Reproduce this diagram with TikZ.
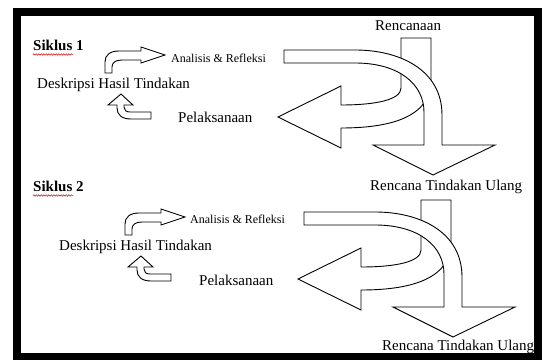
\documentclass[tikz,border=0pt]{standalone}
\usepackage{fontspec}
\setmainfont{Liberation Serif}
\usetikzlibrary{decorations.pathmorphing}
\begin{document}
\begin{tikzpicture}[x=1pt,y=-1pt,
  lbl/.style={anchor=base west,inner sep=0pt,font=\fontsize{15}{18}\selectfont},
  lblsmall/.style={anchor=base west,inner sep=0pt,font=\fontsize{12}{15}\selectfont},
  lblbold/.style={anchor=base west,inner sep=0pt,font=\fontsize{15}{18}\selectfont\bfseries},
  arr/.style={draw=black,fill=white,line width=0.9pt,line join=miter},
  squig/.style={draw=red!85!black,line width=0.5pt,decorate,decoration={snake,amplitude=0.7pt,segment length=2.5pt}},
  bigpair/.pic={
    % left-turning arrow (behind)
    \draw[arr] (401,38) -- (431,38) -- (431,80) .. controls (431,115) and (395,128) .. (341,128)
      -- (341,148) -- (278,117) -- (341,86) -- (341,105)
      .. controls (375,105) and (401,100) .. (401,88) -- cycle;
    % right-then-down arrow (front)
    \draw[arr] (284,50) -- (355,50) .. controls (400,50) and (442,70) .. (442,115) -- (442,145)
      -- (495,145) -- (433,175) -- (373,145) -- (424,145) -- (424,112)
      .. controls (424,85) and (400,63) .. (355,63) -- (284,63) -- cycle;
  },
  smallpair/.pic={
    \draw[arr] (105,73) -- (105,62) .. controls (105,55) and (110,51) .. (119,51) -- (141,51)
      -- (141,47) -- (165,55) -- (141,63) -- (141,60) -- (122,60)
      .. controls (115,60) and (112,63) .. (112,67) -- (112,73) -- cycle;
    \draw[arr] (121,94) -- (133,105) -- (124,105) -- (124,107)
      .. controls (124,110) and (126,112) .. (130,112) -- (151,112) -- (151,119) -- (131,119)
      .. controls (122,119) and (117,115) .. (117,108) -- (117,105) -- (108,105) -- cycle;
  }]
\useasboundingbox (0,0) rectangle (543,363);
\fill[white] (0,0) rectangle (543,363);
\draw[line width=7.5pt] (17,12) rectangle (538,356.5);

% Siklus 1
\node[lblbold] (s1) at (33,51) {Siklus 1};
\draw[squig] (33,54.5) -- (73,54.5);
\pic at (0,0) {smallpair};
\pic at (0,0) {bigpair};
\node[lblsmall] (ar1) at (171,63) {Analisis \& Refleksi};
\node[lbl] (dh1) at (37,89) {Deskripsi Hasil Tindakan};
\node[lbl] (pl1) at (178,123) {Pelaksanaan};
\node[lbl] (rc1) at (375,30.5) {Rencanaan};
\node[lbl] (rt1) at (370,191) {Rencana Tindakan Ulang};

% Siklus 2
\node[lblbold] (s2) at (33,192) {Siklus 2};
\draw[squig] (33,195.5) -- (73,195.5);
\pic at (20,162) {smallpair};
\pic at (20,162) {bigpair};
\node[lblsmall] (ar2) at (190,224) {Analisis \& Refleksi};
\node[lbl] (dh2) at (59,251) {Deskripsi Hasil Tindakan};
\node[lbl] (pl2) at (199,285) {Pelaksanaan};
\node[lbl] (rt2) at (382,350.5) {Rencana Tindakan Ulang};
\end{tikzpicture}
\end{document}
